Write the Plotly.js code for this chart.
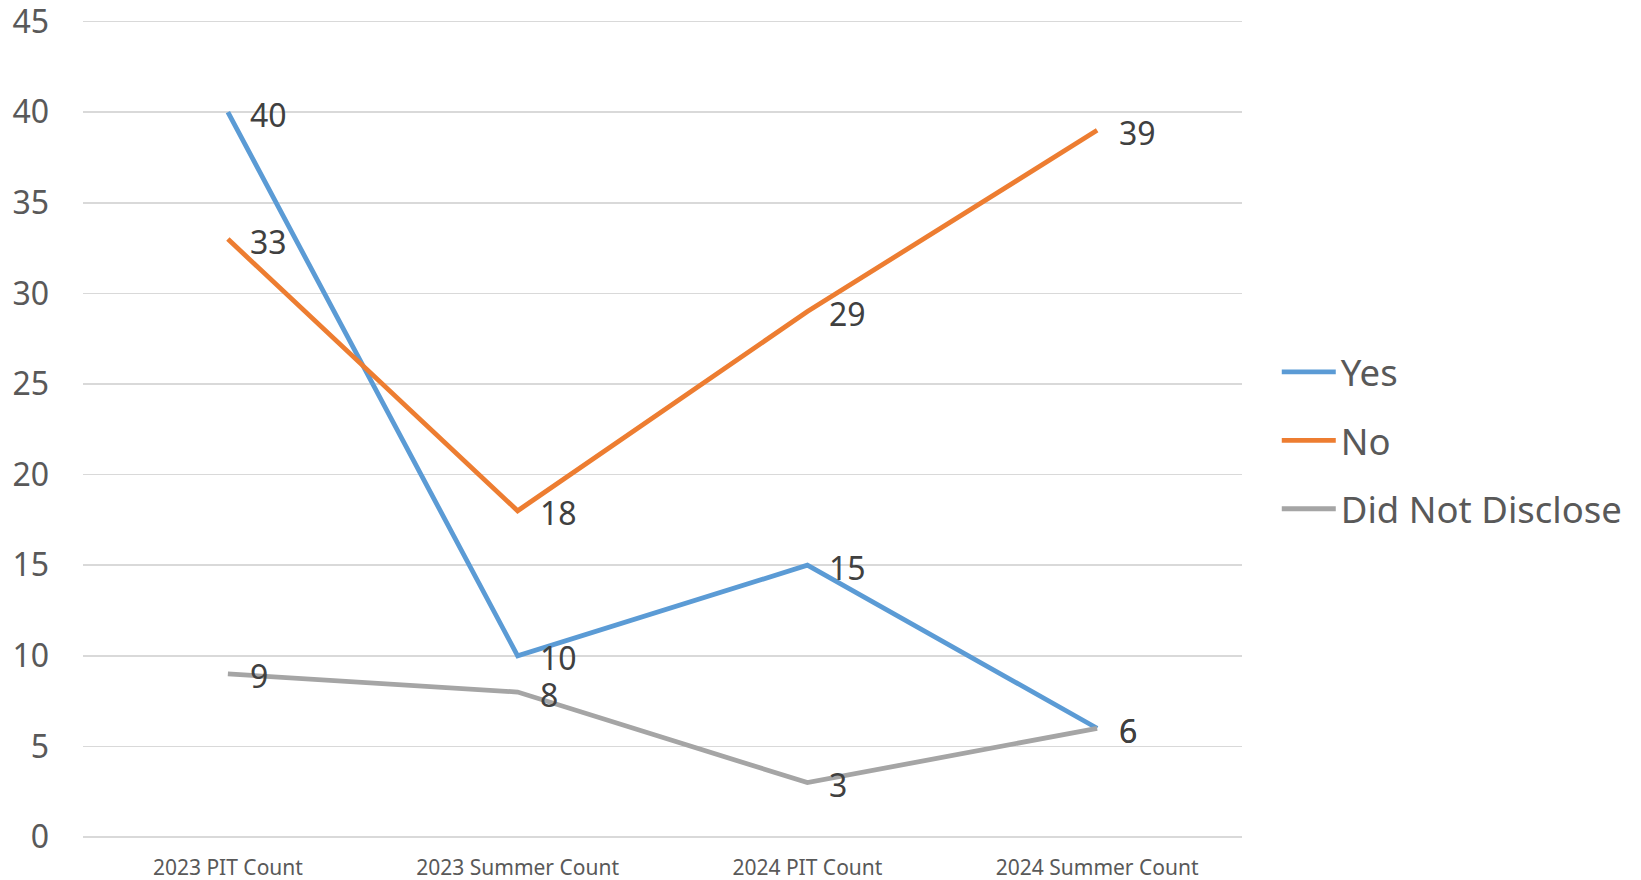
<!DOCTYPE html>
<html>
<head>
<meta charset="utf-8">
<script src="https://cdn.plot.ly/plotly-3.0.1.min.js"></script>
<style>
html,body{margin:0;padding:0;background:#fff;}
#chart{width:1641px;height:880px;}
</style>
</head>
<body>
<div id="chart"></div>
<script>
const categories = ["2023 PIT Count", "2023 Summer Count", "2024 PIT Count", "2024 Summer Count"];
const seriesNames = ["Yes", "No", "Did Not Disclose"];
const yesValues = [40, 10, 15, 6];
const noValues = [33, 18, 29, 39];
const didNotDiscloseValues = [9, 8, 3, 6];
const seriesColors = ["#5B9BD5", "#ED7D31", "#A5A5A5"];
const yTickValues = [0, 5, 10, 15, 20, 25, 30, 35, 40, 45];

const allValues = [yesValues, noValues, didNotDiscloseValues];
const FONT = "Noto Sans, sans-serif";

const traces = allValues.map((vals, i) => ({
  type: "scatter",
  mode: "lines",
  name: seriesNames[i],
  x: categories,
  y: vals,
  legendgroup: "g" + i,
  line: {color: seriesColors[i], width: 4.8},
  hoverinfo: "x+y+name"
}));

const annotations = [];
allValues.forEach((vals) => {
  vals.forEach((v, j) => {
    annotations.push({
      x: categories[j], y: v, xref: "x", yref: "y",
      text: String(v), showarrow: false,
      xanchor: "left", yanchor: "middle",
      xshift: 20, yshift: -2,
      font: {family: FONT, size: 32, color: "#404040"}
    });
  });
});

const layout = {
  width: 1641, height: 880,
  margin: {l: 83, r: 399, t: 18.4, b: 43, autoexpand: false},
  paper_bgcolor: "#ffffff",
  plot_bgcolor: "#ffffff",
  font: {family: FONT, color: "#595959"},
  showlegend: true,
  legend: {
    x: 1.03, xanchor: "left",
    y: 0.484, yanchor: "middle",
    itemwidth: 54,
    tracegroupgap: 18,
    font: {family: FONT, size: 36.5, color: "#595959"},
    bgcolor: "rgba(0,0,0,0)"
  },
  xaxis: {
    type: "category",
    range: [-0.5, 3.5],
    showgrid: false,
    zeroline: false,
    showline: false,
    ticks: "",
    ticklabelstandoff: 16,
    ticklabeloverflow: "allow",
    tickfont: {family: FONT, size: 21, color: "#595959"},
    automargin: false
  },
  yaxis: {
    range: [0, 45.2],
    tickvals: yTickValues,
    ticktext: yTickValues.map(String),
    showgrid: true,
    gridcolor: "#D9D9D9",
    gridwidth: 1.5,
    zeroline: true,
    zerolinecolor: "#D9D9D9",
    zerolinewidth: 1.5,
    showline: false,
    ticks: "",
    ticklabelstandoff: 33,
    ticklabeloverflow: "allow",
    tickfont: {family: FONT, size: 32, color: "#595959"},
    automargin: false
  },
  annotations: annotations
};

Plotly.newPlot("chart", traces, layout, {displayModeBar: false, staticPlot: true});
</script>
</body>
</html>
